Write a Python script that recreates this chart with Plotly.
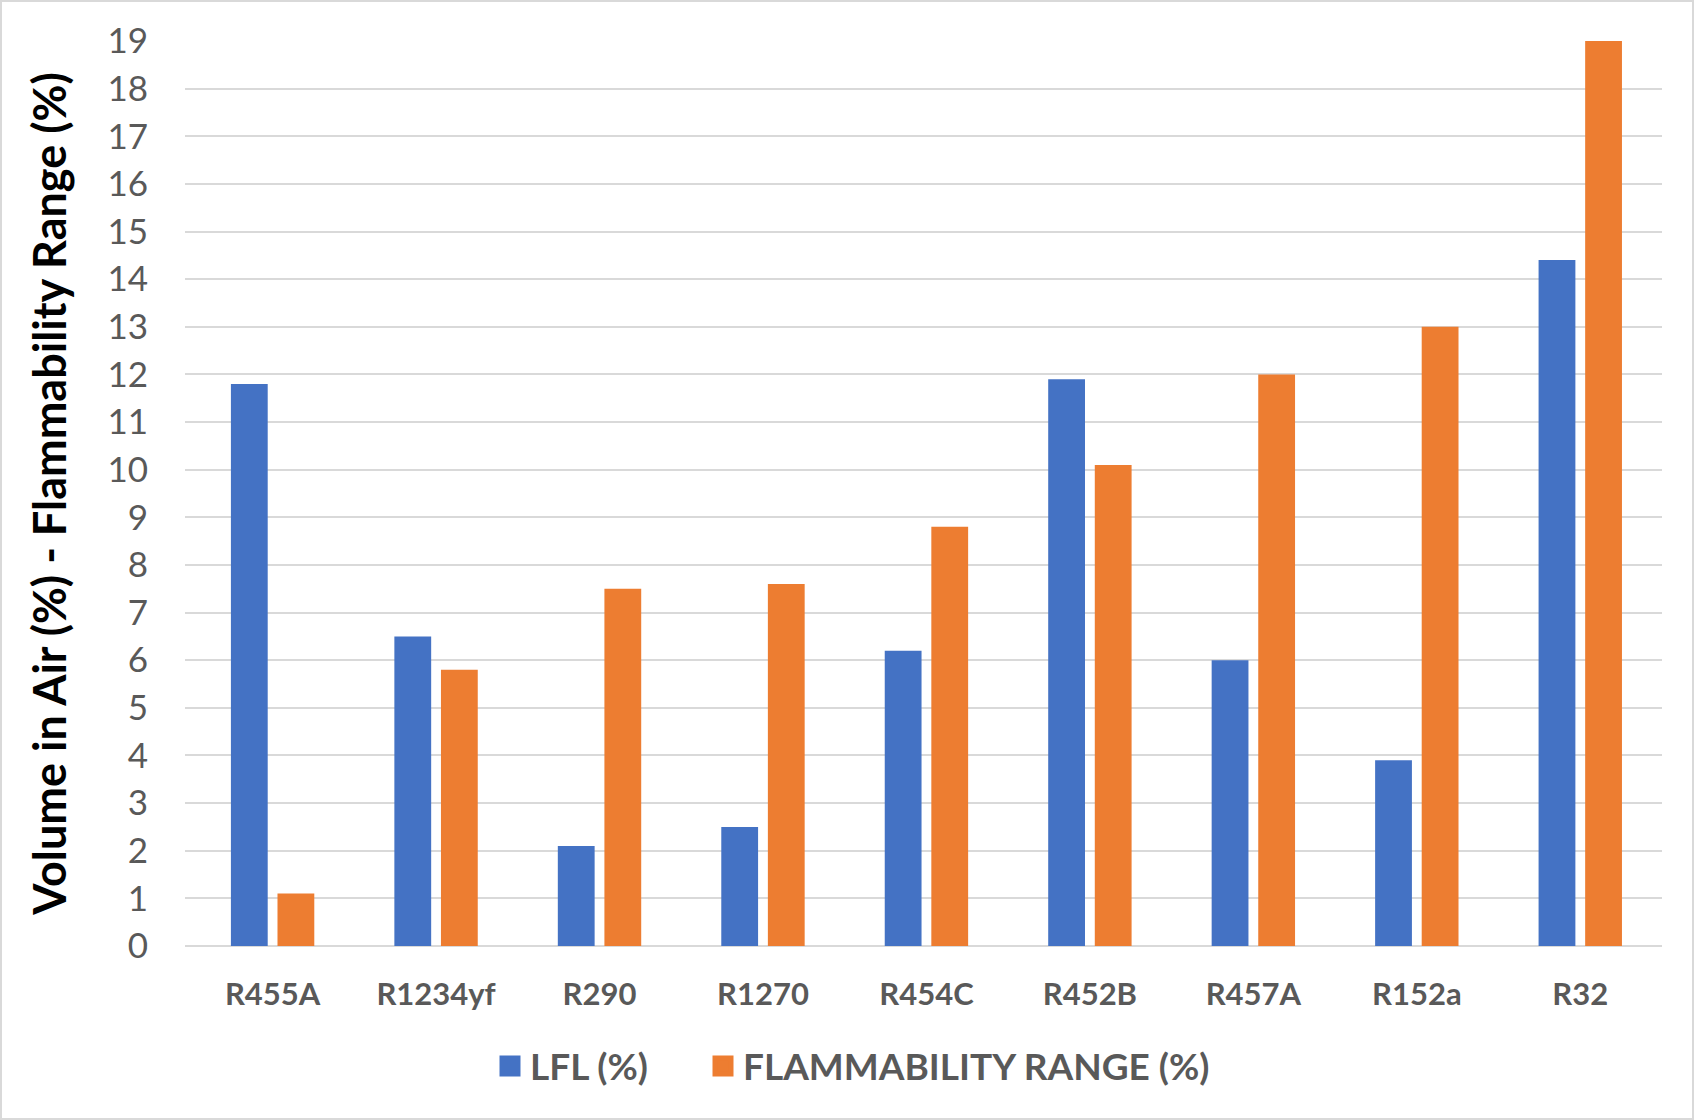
import plotly.graph_objects as go

# Refrigerants and their flammability data (% volume in air)
refrigerants = ["R455A", "R1234yf", "R290", "R1270", "R454C", "R452B", "R457A", "R152a", "R32"]
lfl_pct = [11.8, 6.5, 2.1, 2.5, 6.2, 11.9, 6.0, 3.9, 14.4]
flam_range_pct = [1.1, 5.8, 7.5, 7.6, 8.8, 10.1, 12.0, 13.0, 19.0]
series_names = ["LFL (%)", "FLAMMABILITY RANGE (%)"]
y_ticks = list(range(0, 20))

BLUE = "#4472C4"
ORANGE = "#ED7D31"
GRID = "#D9D9D9"
TEXT = "#595959"

W, H = 1694, 1120
ML, MR, MT, MB = 185, 32, 41, 174
plot_w = W - ML - MR
plot_h = H - MT - MB

fig = go.Figure()
for name, vals, col in [(series_names[0], lfl_pct, BLUE), (series_names[1], flam_range_pct, ORANGE)]:
    fig.add_trace(go.Bar(
        x=refrigerants, y=vals, name=name,
        marker=dict(color=col, line=dict(width=0)),
        showlegend=False,
    ))

# legend entries with larger square swatches, one legend box per series
legend_left_px = [490, 703]
for i, (name, col) in enumerate([(series_names[0], BLUE), (series_names[1], ORANGE)]):
    fig.add_trace(go.Scatter(
        x=[refrigerants[0]], y=[None], name=name, mode="markers",
        marker=dict(symbol="square", size=22, color=col, line=dict(color=col, width=5)),
        showlegend=True, hoverinfo="skip",
        legend="legend" if i == 0 else "legend2",
    ))

# outer chart border
fig.add_shape(
    type="rect", xref="paper", yref="paper",
    x0=-(ML - 1) / plot_w, x1=1 + (MR - 1) / plot_w,
    y0=-(MB - 1) / plot_h, y1=1 + (MT - 1) / plot_h,
    line=dict(color=GRID, width=2), fillcolor="rgba(0,0,0,0)", layer="below",
)

legend_style = dict(
    orientation="h", xanchor="left",
    y=(946.5 - 1067) / plot_h, yanchor="middle",
    font=dict(family="Lato", size=37, color=TEXT, weight="bold"),
    itemsizing="trace", bgcolor="rgba(0,0,0,0)",
)

fig.update_layout(
    width=W, height=H,
    margin=dict(l=ML, r=MR, t=MT, b=MB, pad=0),
    paper_bgcolor="white", plot_bgcolor="white",
    barmode="group", bargap=0.43, bargroupgap=0.21,
    font=dict(family="Lato", color=TEXT),
    legend=dict(x=(legend_left_px[0] - ML) / plot_w, **legend_style),
    legend2=dict(x=(legend_left_px[1] - ML) / plot_w, **legend_style),
    xaxis=dict(
        showgrid=False, showline=False, zeroline=False,
        tickfont=dict(family="Lato", size=31, color=TEXT, weight="bold"),
        ticks="", ticklabelstandoff=27,
    ),
    yaxis=dict(
        range=[0, 19], tickvals=y_ticks, ticktext=[str(v) for v in y_ticks],
        showgrid=True, gridcolor=GRID, gridwidth=2,
        zeroline=True, zerolinecolor=GRID, zerolinewidth=2,
        showline=False, ticks="", ticklabelstandoff=36,
        tickfont=dict(family="Lato", size=35, color=TEXT),
        title=dict(
            text="Volume in Air (%) - Flammability Range (%)",
            font=dict(family="Lato", size=45, color="black", weight="bold"),
            standoff=26,
        ),
    ),
)

fig.write_html("out.html")
